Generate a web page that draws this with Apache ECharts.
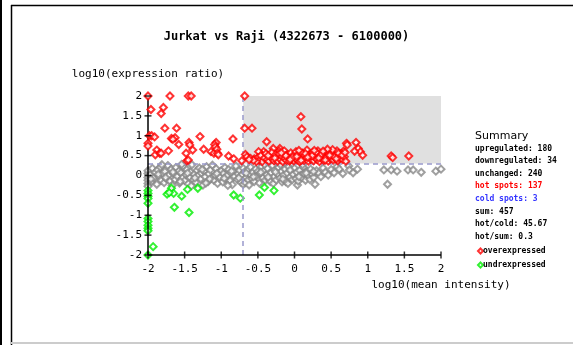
<!DOCTYPE html>
<html><head><meta charset="utf-8">
<script src="https://cdn.jsdelivr.net/npm/echarts@6/dist/echarts.min.js"></script>
<style>html,body{margin:0;padding:0;background:#fff}#c{width:573px;height:345px}</style>
</head><body><div id="c"></div>
<script>
const titleText = 'Jurkat vs Raji (4322673 - 6100000)';
const xName = 'log10(mean intensity)';
const yName = 'log10(expression ratio)';
const xTicks = [-2, 2, 0.5];
const yTicks = [-2, 2, 0.5];
const xTickValues = [-2, -1.5, -1, -0.5, 0, 0.5, 1, 1.5, 2];
const yTickValues = [-2, -1.5, -1, -0.5, 0, 0.5, 1, 1.5, 2];
const hotRegion = [[-0.7, 0.3], [2, 2]];
const summaryLines = [
  ['upregulated: 180', '#000'],
  ['downregulated: 34', '#000'],
  ['unchanged: 240', '#000'],
  ['hot spots: 137', '#ff0000'],
  ['cold spots: 3', '#3333ff'],
  ['sum: 457', '#000'],
  ['hot/cold: 45.67', '#000'],
  ['hot/sum: 0.3', '#000']
];
const overexpressed = [
[-2,2],[-1.70,2],[-1.45,2],[-1.41,2],[-0.68,2],
[-1.96,1.66],[-1.79,1.71],[-1.82,1.56],[-1.77,1.19],[-1.61,1.19],
[-1.98,1.0],[-1.95,1.0],[-1.91,0.97],[-2,0.81],[-2,0.74],
[-1.88,0.64],[-1.90,0.52],[-1.84,0.56],[-1.82,0.56],[-1.72,0.62],
[-1.68,0.93],[-1.63,0.95],[-1.66,0.91],[-1.58,0.78],[-1.44,0.83],[-1.43,0.77],
[-1.48,0.56],[-1.47,0.37],[-1.45,0.39],[-1.39,0.64],[-1.29,0.98],[-1.24,0.66],
[-1.14,0.60],[-1.10,0.56],[-1.07,0.83],[-1.09,0.78],[-1.08,0.72],[-1.06,0.66],[-1.05,0.56],[-1.04,0.52],
[-0.90,0.49],[-0.83,0.42],[-0.84,0.92],[-0.72,0.37],[-0.68,1.19],[-0.58,1.19],
[-0.67,0.53],[-0.65,0.47],[-0.60,0.43],[-0.55,0.42],
[0.087,1.48],[0.10,1.17],[0.18,0.92],[-0.38,0.85],
[0.71,0.81],[0.72,0.77],[0.84,0.83],[0.87,0.68],[0.90,0.60],[0.93,0.51],[0.82,0.61],[0.67,0.61],
[1.32,0.49],[1.34,0.45],[1.56,0.49],
[-0.20,0.68],[-0.21,0.61],[-0.29,0.68],[-0.42,0.60],[-0.45,0.52],[-0.49,0.60],
[-0.50,0.45],[-0.48,0.38],[-0.46,0.50],[-0.44,0.35],[-0.41,0.44],[-0.39,0.55],[-0.37,0.40],[-0.35,0.36],[-0.33,0.48],[-0.31,0.58],
[-0.30,0.42],[-0.28,0.37],[-0.26,0.52],[-0.24,0.45],[-0.23,0.36],[-0.21,0.55],[-0.19,0.40],[-0.17,0.48],[-0.16,0.35],[-0.14,0.62],
[-0.13,0.43],[-0.11,0.38],[-0.10,0.52],[-0.08,0.46],[-0.07,0.36],[-0.05,0.57],[-0.04,0.41],[-0.02,0.50],[-0.01,0.37],[0.01,0.44],
[0.02,0.60],[0.04,0.39],[0.05,0.53],[0.07,0.35],[0.08,0.47],[0.10,0.42],[0.11,0.56],[0.13,0.38],[0.14,0.50],[0.16,0.44],
[0.17,0.64],[0.19,0.36],[0.20,0.52],[0.22,0.41],[0.23,0.47],[0.25,0.58],[0.26,0.37],[0.28,0.45],[0.29,0.53],[0.31,0.40],
[0.32,0.62],[0.34,0.35],[0.35,0.49],[0.37,0.43],[0.38,0.56],[0.40,0.38],[0.41,0.51],[0.43,0.46],[0.44,0.60],[0.46,0.36],
[0.47,0.54],[0.49,0.42],[0.50,0.48],[0.52,0.58],[0.53,0.39],[0.55,0.52],[0.56,0.45],[0.58,0.62],[0.59,0.37],[0.61,0.50],
[0.62,0.43],[0.64,0.55],[0.66,0.40],[0.68,0.47],[0.70,0.36],[0.52,0.65],[0.45,0.66],[0.30,0.58],[0.06,0.63],[-0.03,0.45],
[0.15,0.55],[0.36,0.52],[0.42,0.39],[0.54,0.47],[0.60,0.56],[0.24,0.50],[0.09,0.38],[-0.12,0.50],[-0.27,0.44],[-0.36,0.50],
[-0.52,0.35],[-0.56,0.38],[-0.62,0.40],[0.48,0.51],[0.33,0.44],[0.18,0.46],[0.03,0.48],[-0.06,0.40],[-0.18,0.57],[0.27,0.63],
[0.39,0.61],[0.57,0.42],[0.65,0.51],[0.69,0.58]
];
const underexpressed = [
[-2,-0.38],[-2,-0.45],[-2,-0.52],[-2,-0.58],[-2,-0.70],[-2,-1.08],[-2,-1.16],[-2,-1.25],[-2,-1.33],[-2,-1.39],[-2,-2],
[-1.93,-1.79],[-1.74,-0.47],[-1.68,-0.32],[-1.65,-0.45],[-1.71,-0.43],[-1.54,-0.52],[-1.46,-0.35],
[-1.64,-0.80],[-1.44,-0.93],[-1.32,-0.32],[-0.83,-0.49],[-0.74,-0.57],[-0.48,-0.49],[-0.41,-0.30],[-0.28,-0.38]
];
const unchanged = [
[-2,0.05],[-2,-0.05],[-2,-0.12],[-2,-0.2],[-2,-0.27],[-2,0.12],
[-1.97,0.02],[-1.95,-0.15],[-1.94,0.18],[-1.92,-0.06],[-1.90,0.08],[-1.88,-0.22],[-1.87,0.14],[-1.85,-0.03],[-1.83,0.21],[-1.82,-0.12],
[-1.80,0.05],[-1.78,-0.18],[-1.77,0.10],[-1.75,-0.08],[-1.73,0.25],[-1.72,0.0],[-1.70,-0.14],[-1.68,0.16],[-1.67,-0.25],[-1.65,0.04],
[-1.63,-0.10],[-1.62,0.20],[-1.60,-0.02],[-1.58,0.11],[-1.57,-0.19],[-1.55,0.07],[-1.53,-0.06],[-1.52,0.23],[-1.50,-0.13],[-1.48,0.02],
[-1.47,0.15],[-1.45,-0.21],[-1.43,-0.04],[-1.42,0.09],[-1.40,0.27],[-1.38,-0.11],[-1.37,0.03],[-1.35,-0.17],[-1.33,0.13],[-1.32,-0.01],
[-1.30,0.19],[-1.28,-0.08],[-1.27,0.06],[-1.25,-0.24],[-1.23,0.11],[-1.22,-0.03],[-1.20,0.22],[-1.18,-0.15],[-1.17,0.04],[-1.15,0.14],
[-1.13,-0.07],[-1.12,0.26],[-1.10,-0.12],[-1.08,0.01],[-1.07,0.17],[-1.05,-0.20],[-1.03,0.08],[-1.02,-0.04],[-1.00,0.12],[-0.98,-0.16],
[-0.97,0.05],[-0.95,0.20],[-0.93,-0.09],[-0.92,0.00],[-0.90,0.15],[-0.88,-0.13],[-0.87,0.07],[-0.85,-0.23],[-0.83,0.10],[-0.82,-0.02],
[-0.80,0.24],[-0.78,-0.10],[-0.77,0.04],[-0.75,0.13],[-0.73,-0.17],[-0.72,0.02],[-0.70,0.18],[-0.70,-0.22],[-0.67,-0.18],[-0.68,0.09],
[-0.66,-0.05],[-0.64,0.14],[-0.63,-0.11],[-0.61,0.03],[-0.60,0.21],[-0.58,-0.08],[-0.57,0.08],[-0.55,-0.15],[-0.53,0.16],[-0.52,-0.01],
[-0.50,0.10],[-0.48,-0.19],[-0.47,0.05],[-0.45,0.22],[-0.43,-0.06],[-0.42,0.12],[-0.40,-0.12],[-0.38,0.02],[-0.37,0.18],[-0.35,-0.09],
[-0.33,-0.15],[-0.32,0.07],[-0.30,0.25],[-0.29,-0.20],[-0.28,-0.03],[-0.27,0.13],[-0.25,-0.11],[-0.23,0.04],[-0.22,0.20],[-0.20,-0.07],
[-0.18,0.10],[-0.17,-0.16],[-0.15,0.01],[-0.13,0.16],[-0.12,-0.15],[-0.10,0.06],[-0.09,-0.20],[-0.08,0.22],[-0.06,-0.04],[-0.05,0.11],
[-0.03,-0.10],[-0.02,0.03],[0.00,0.18],[0.02,-0.08],[0.03,0.08],[0.04,-0.24],[0.05,-0.14],[0.07,0.13],[0.08,0.00],[0.10,-0.06],
[0.12,0.21],[0.13,0.05],[0.15,-0.12],[0.17,0.10],[0.19,-0.02],[0.21,-0.10],[0.22,0.16],[0.24,0.03],[0.26,-0.05],[0.28,-0.22],
[0.30,0.12],[0.33,0.06],[0.36,-0.03],[0.39,0.19],[0.42,0.08],[0.46,0.01],[0.50,0.15],[0.54,0.07],[0.58,0.22],[0.61,0.16],
[0.66,0.05],[0.74,0.24],[0.75,0.14],[0.80,0.07],[0.86,0.16],[1.22,0.14],[1.27,-0.22],[1.32,0.14],[1.40,0.11],[1.55,0.14],
[1.62,0.14],[1.73,0.08],[1.93,0.11],[2.0,0.16],
[-1.96,-0.09],[-1.86,0.03],[-1.76,-0.05],[-1.66,0.09],[-1.56,-0.15],[-1.46,0.06],[-1.36,-0.06],[-1.26,0.15],[-1.16,-0.09],[-1.06,0.05],
[-0.96,-0.07],[-0.86,0.11],[-0.76,-0.06],[-0.66,0.06],[-0.56,-0.03],[-0.46,0.08],[-0.36,-0.04],[-0.26,0.09],[-0.16,-0.09],[-0.06,0.14],
[0.06,-0.03],[0.16,0.06],[0.26,0.10],[-1.41,-0.26],[-1.21,-0.19],[-0.91,-0.25],[-0.62,-0.24],[-0.41,0.28],[-0.19,0.27],[0.11,0.27],
[-1.54,0.28],[-1.81,0.27]
];

const MONO = '"DejaVu Sans Mono", monospace';
const chart = echarts.init(document.getElementById('c'));
function mainAxis(range, extra) {
  return Object.assign({
    type: 'value', min: range[0], max: range[1], interval: range[2],
    splitLine: {show: false},
    axisLine: {show: false, onZero: false},
    axisTick: {show: false},
    axisLabel: {color: '#000', fontFamily: MONO, fontSize: 11}
  }, extra);
}
const summaryGraphics = [{
  type: 'text', left: 475, top: 131,
  style: {text: 'Summary', fontFamily: '"DejaVu Sans", sans-serif', fontSize: 11, fill: '#000'}
}].concat(summaryLines.map((l, i) => ({
  type: 'text', left: 475, top: 145 + i * 12.4 + (i >= 5 ? 1 : 0),
  style: {text: l[0], fontFamily: MONO, fontWeight: 'bold', fontSize: 8, fill: l[1]}
})));
const xMin = xTicks[0], xMax = xTicks[1], yMin = yTicks[0], yMax = yTicks[1];

chart.setOption({
  animation: false,
  title: {text: titleText, left: 'center', top: 26, textStyle: {fontFamily: MONO, fontWeight: 'bold', fontSize: 12, color: '#000'}},
  grid: {left: 148, right: 132, top: 96, bottom: 90},
  xAxis: mainAxis(xTicks, {
    name: xName, nameLocation: 'end', nameGap: 0,
    nameTextStyle: {fontFamily: MONO, fontSize: 11, color: '#000', align: 'center', verticalAlign: 'top', padding: [25, 0, 0, 0]},
    axisLabel: {color: '#000', fontFamily: MONO, fontSize: 11, margin: 9}
  }),
  yAxis: mainAxis(yTicks, {
    name: yName, nameLocation: 'end', nameGap: 16,
    nameTextStyle: {fontFamily: MONO, fontSize: 11, color: '#000', align: 'center'},
    axisLabel: {color: '#000', fontFamily: MONO, fontSize: 11, margin: 6}
  }),
  legend: {
    orient: 'vertical', left: 472, top: 242, itemWidth: 5, itemHeight: 5, itemGap: 6,
    data: ['overexpressed', 'undrexpressed'],
    textStyle: {fontFamily: MONO, fontWeight: 'bold', fontSize: 8, color: '#000', padding: [7, 0, 0, -5]},
    selectedMode: false
  },
  graphic: [
    {type: 'line', shape: {x1: 1, y1: 0, x2: 1, y2: 345}, style: {stroke: '#000', lineWidth: 2}},
    {type: 'line', shape: {x1: 11.5, y1: 5, x2: 11.5, y2: 345}, style: {stroke: '#000', lineWidth: 1.5}},
    {type: 'line', shape: {x1: 11, y1: 5.5, x2: 573, y2: 5.5}, style: {stroke: '#000', lineWidth: 1.5}},
    {type: 'line', shape: {x1: 11, y1: 343, x2: 573, y2: 343}, style: {stroke: '#cccccc', lineWidth: 2}}
  ].concat(summaryGraphics),
  series: [
    {
      type: 'scatter', name: 'unchanged', data: unchanged, symbol: 'emptyDiamond', symbolSize: 7,
      itemStyle: {color: '#888888', borderWidth: 2.2}, z: 3,
      markArea: {silent: true, itemStyle: {color: '#e0e0e0'}, data: [[{coord: hotRegion[0]}, {coord: hotRegion[1]}]]},
      markLine: {
        silent: true, symbol: 'none', label: {show: false},
        lineStyle: {color: '#9999cc', type: [5, 4], width: 1.5},
        data: [
          [{coord: [hotRegion[0][0], yMin]}, {coord: [hotRegion[0][0], hotRegion[1][1]]}],
          [{coord: [xMin, hotRegion[0][1]]}, {coord: [xMax, hotRegion[0][1]]}]
        ]
      }
    },
    {type: 'scatter', name: 'undrexpressed', data: underexpressed, symbol: 'emptyDiamond', symbolSize: 7,
      itemStyle: {color: '#00ee00', borderWidth: 2.2}, z: 4},
    {type: 'scatter', name: 'overexpressed', data: overexpressed, symbol: 'emptyDiamond', symbolSize: 7,
      itemStyle: {color: '#ff0000', borderWidth: 2.2}, z: 5},
    // axis frame: ticks as thin rect symbols crossing the axis, lines as markLines
    {type: 'scatter', name: 'xticks', data: xTickValues.map(v => [v, yMin]), symbol: 'rect', symbolSize: [1.5, 7],
      itemStyle: {color: '#000'}, silent: true, clip: false, z: 6,
      markLine: {
        silent: true, symbol: 'none', label: {show: false},
        lineStyle: {color: '#000', type: 'solid', width: 1.5},
        data: [
          [{coord: [xMin, yMin]}, {coord: [xMax, yMin]}],
          [{coord: [xMin, yMin]}, {coord: [xMin, yMax]}]
        ]
      }},
    {type: 'scatter', name: 'yticks', data: yTickValues.map(v => [xMin, v]), symbol: 'rect', symbolSize: [7, 1.5],
      itemStyle: {color: '#000'}, silent: true, clip: false, z: 6}
  ]
});
</script>
</body></html>
